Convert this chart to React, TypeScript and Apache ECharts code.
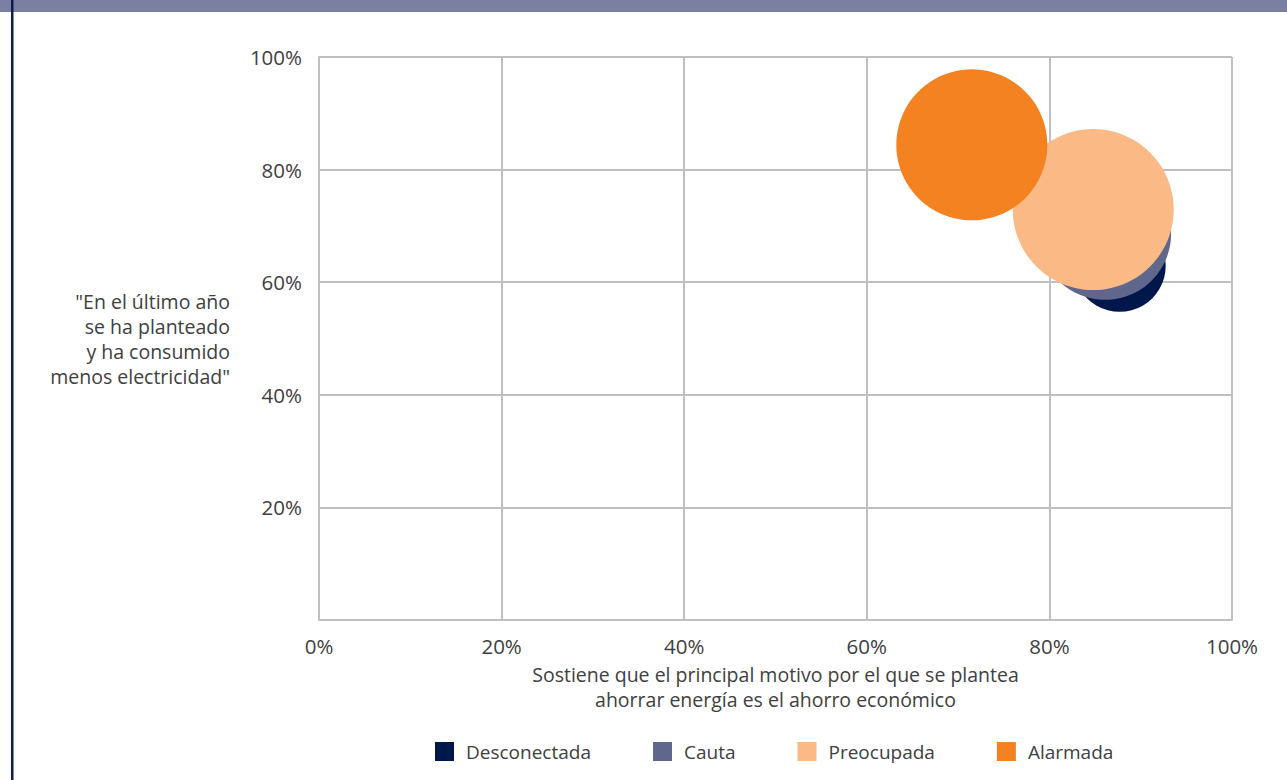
import React, { useEffect, useRef } from "react";
import * as echarts from "echarts";

const categories = ["Desconectada", "Cauta", "Preocupada", "Alarmada"];
const xValues = [87.7, 86.1, 84.8, 71.5];
const yValues = [62.9, 68.6, 72.9, 84.4];
const bubbleSizes = [92, 132, 161, 151];
const colors = ["#00174b", "#5f678c", "#fbba85", "#f58220"];
const xTicks = [0, 20, 40, 60, 80, 100];
const xAxisName = "Sostiene que el principal motivo por el que se plantea\nahorrar energía es el ahorro económico";
const yAxisName = "\"En el último año\nse ha planteado\ny ha consumido\nmenos electricidad\"";

const FONT = "'Open Sans', 'Noto Sans', sans-serif";
const TEXT = "#404040";
const GRID = "#c0c0c0";

export default function App() {
  const ref = useRef<HTMLDivElement>(null);
  useEffect(() => {
    if (!ref.current) return;
    const chart = echarts.init(ref.current, null, { renderer: "svg" });
    chart.setOption({
      animation: false,
      backgroundColor: "#ffffff",
      textStyle: { fontFamily: FONT },
      graphic: [
        { type: "rect", shape: { x: 0, y: 0, width: 1287, height: 12 }, style: { fill: "#7b80a3" }, z: 10 },
        { type: "rect", shape: { x: 11, y: 0, width: 2.5, height: 780 }, style: { fill: "#0d1b4d" }, z: 11 },
      ],
      grid: { left: 319, right: 55, top: 57, bottom: 160 },
      legend: {
        top: 737,
        left: 430,
        itemWidth: 19,
        itemHeight: 19,
        itemGap: 62,
        icon: "rect",
        data: categories,
        textStyle: { fontFamily: FONT, fontSize: 19, color: TEXT, padding: [0, 0, 0, 7] },
      },
      xAxis: {
        type: "value",
        min: 0,
        max: 100,
        interval: 20,
        name: xAxisName,
        nameLocation: "middle",
        nameGap: 42,
        nameTextStyle: { fontFamily: FONT, fontSize: 19.5, color: TEXT, lineHeight: 25, align: "center" },
        axisLine: { show: true, lineStyle: { color: GRID, width: 2 } },
        axisTick: { show: false },
        splitLine: { show: true, lineStyle: { color: GRID, width: 2 } },
        axisLabel: {
          margin: 15,
          fontFamily: FONT,
          fontSize: 20.5,
          color: TEXT,
          formatter: (v: number) => (xTicks.includes(v) ? v + "%" : ""),
        },
      },
      yAxis: {
        type: "value",
        min: 0,
        max: 100,
        interval: 20,
        name: yAxisName,
        nameLocation: "middle",
        nameRotate: 0,
        nameGap: 89,
        nameTextStyle: { fontFamily: FONT, fontSize: 19.5, color: TEXT, lineHeight: 25, align: "right" },
        axisLine: { show: true, lineStyle: { color: GRID, width: 2 } },
        axisTick: { show: false },
        splitLine: { show: true, lineStyle: { color: GRID, width: 2 } },
        axisLabel: {
          margin: 17,
          fontFamily: FONT,
          fontSize: 20.5,
          color: TEXT,
          formatter: (v: number) => (v === 0 ? "" : v + "%"),
        },
      },
      series: categories.map((name, i) => ({
        name,
        type: "scatter",
        data: [[xValues[i], yValues[i], bubbleSizes[i]]],
        symbolSize: (val: number[]) => val[2],
        itemStyle: { color: colors[i], opacity: 1 },
        emphasis: { disabled: true },
        z: 2 + i,
      })),
    });
    return () => chart.dispose();
  }, []);
  return (
    <div
      ref={ref}
      style={{ position: "fixed", left: 0, top: 0, width: 1287, height: 780 }}
    />
  );
}
